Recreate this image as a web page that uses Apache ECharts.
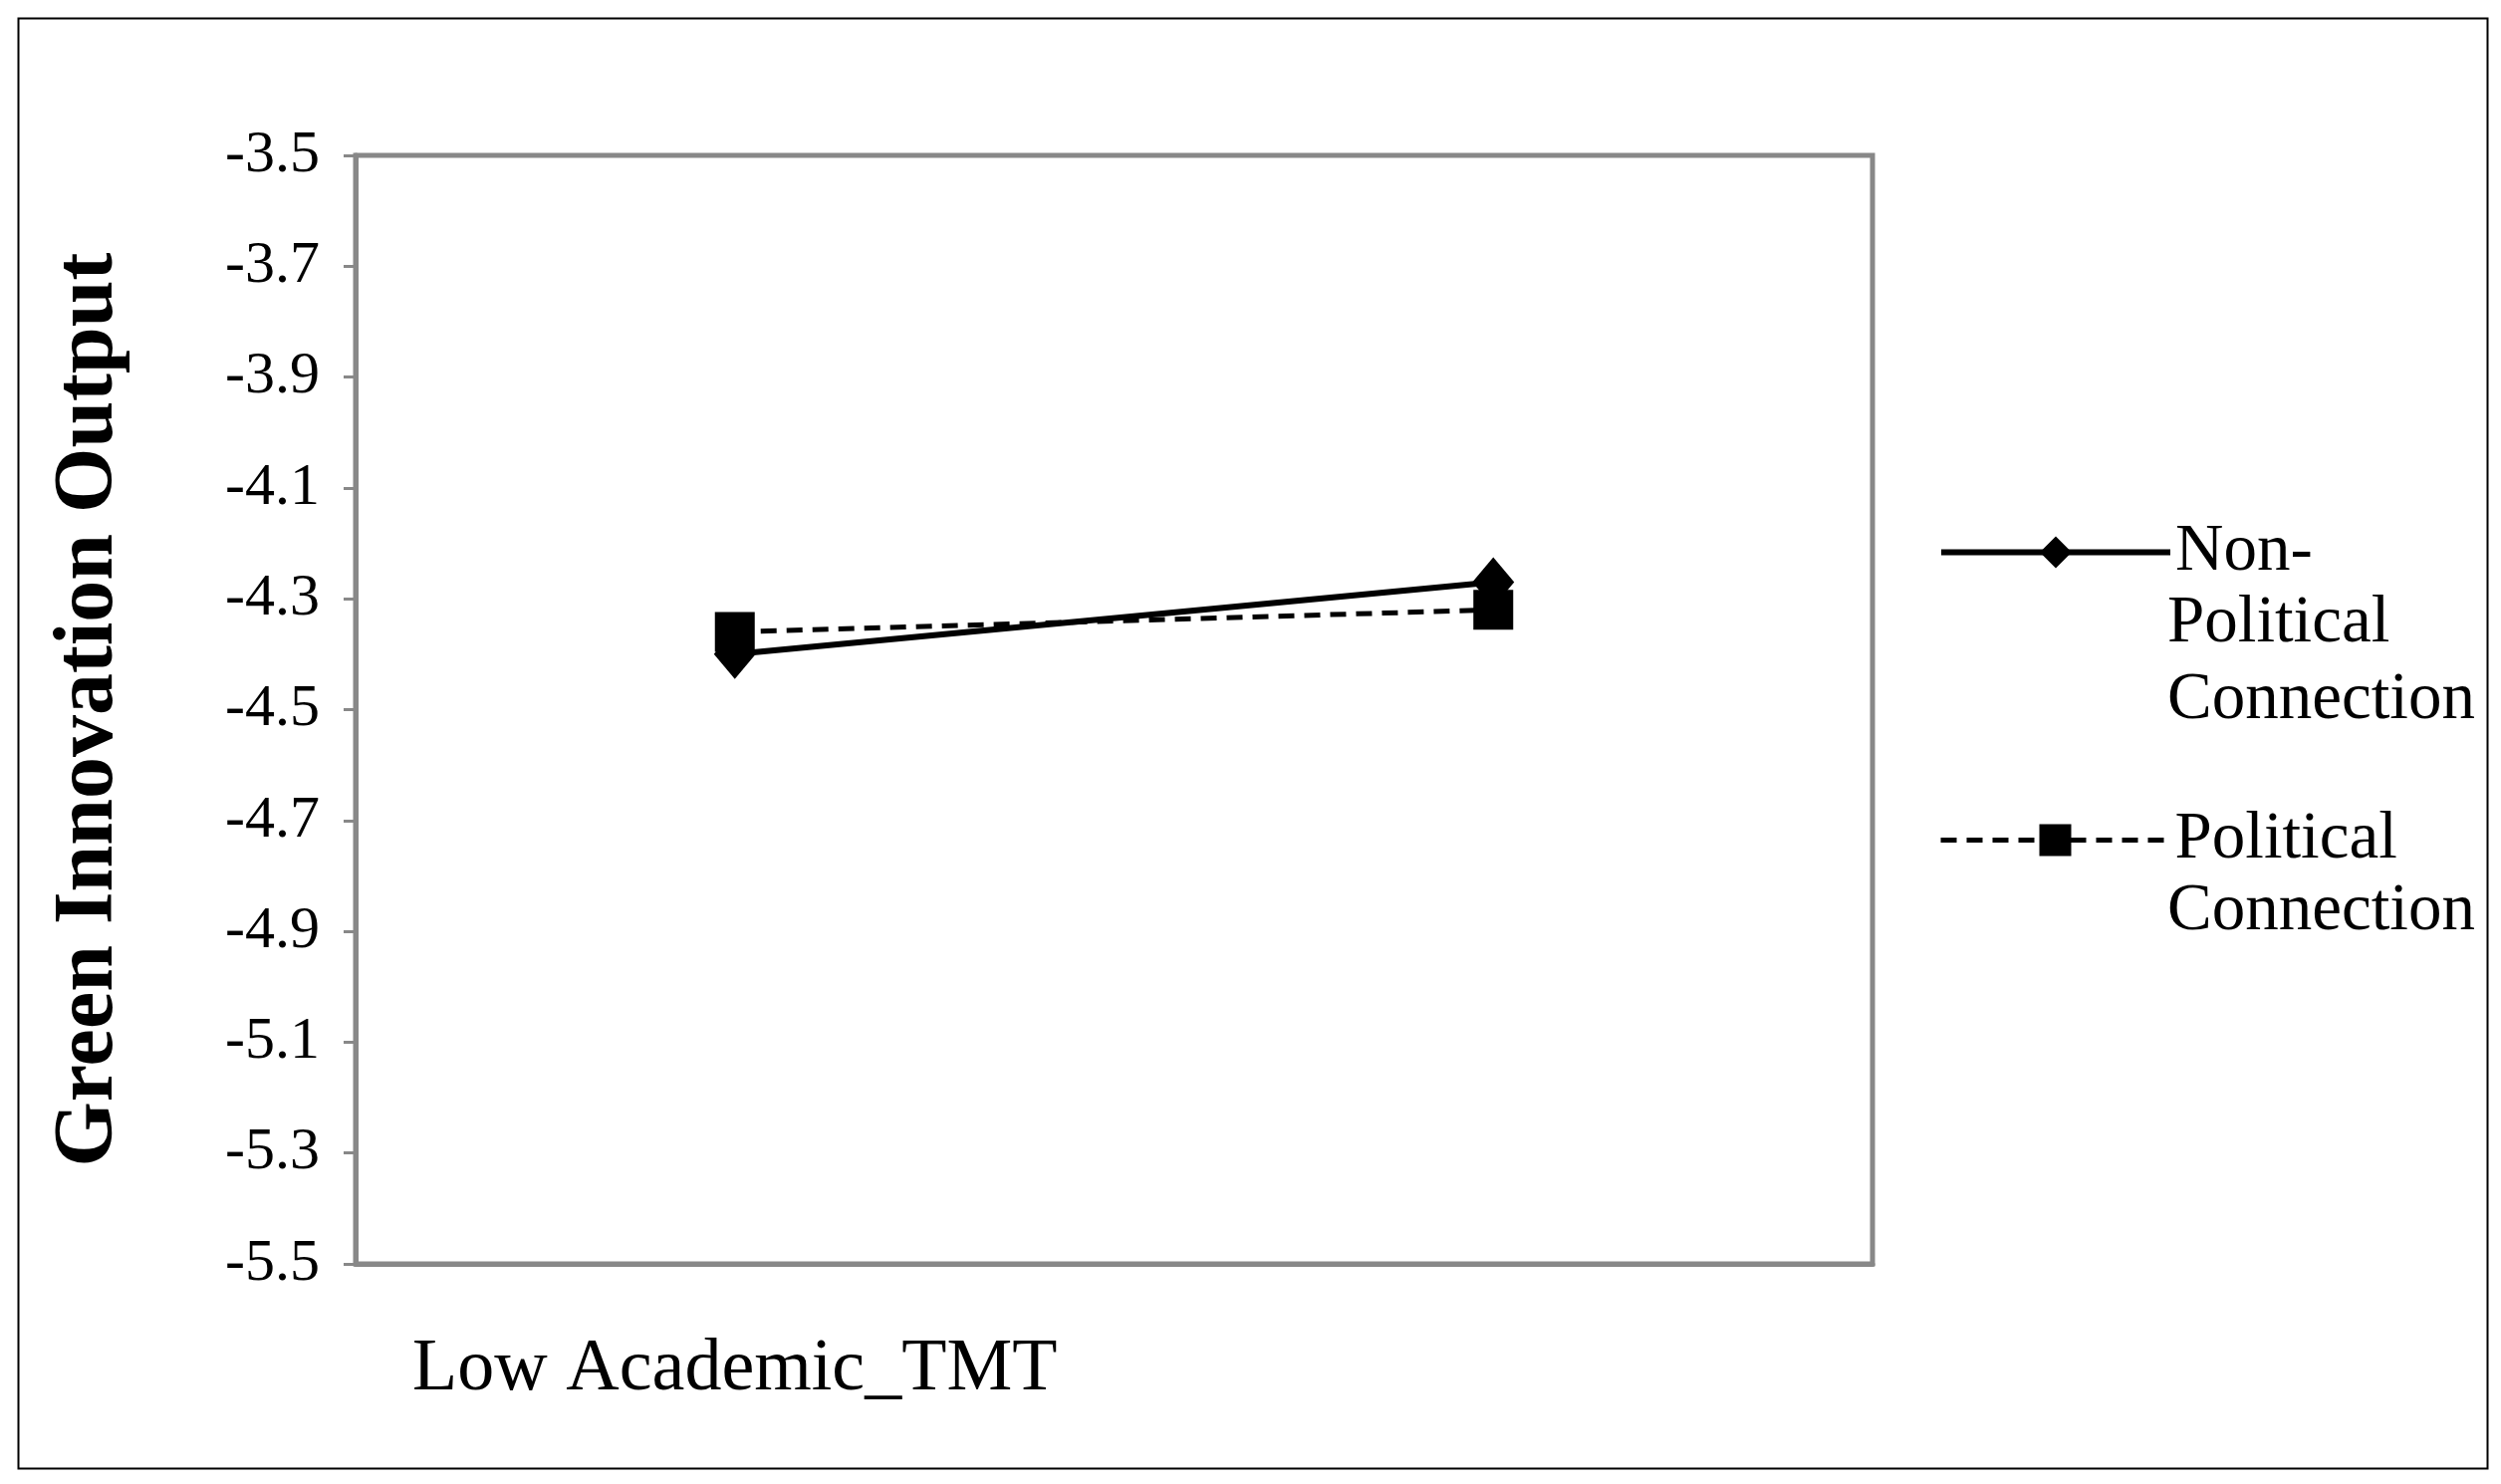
<!DOCTYPE html>
<html>
<head>
<meta charset="utf-8">
<script src="https://cdn.jsdelivr.net/npm/echarts@6/dist/echarts.min.js"></script>
<style>
  html, body { margin: 0; padding: 0; background: #fff; }
  #chart { width: 2511px; height: 1490px; }
</style>
</head>
<body>
<div id="chart"></div>
<script>
var categories = ['Low Academic_TMT', 'High Academic_TMT'];
var nonPolitical = [-4.40, -4.27];
var political = [-4.36, -4.32];
var yTicks = { min: -5.5, max: -3.5, interval: 0.2 };

var font = 'Liberation Serif';
var legendFont = { fontSize: 67, lineHeight: 77, fill: '#000', fontFamily: font };
var chart = echarts.init(document.getElementById('chart'));
chart.setOption({
  animation: false,
  textStyle: { fontFamily: font },
  graphic: [{
    type: 'rect', left: 16, top: 16,
    shape: { width: 2479, height: 1456 },
    style: { fill: 'none', stroke: '#000', lineWidth: 2 }
  }, {
    type: 'text', left: 2176, top: 588,
    style: Object.assign({ text: 'Political\nConnection' }, legendFont)
  }, {
    type: 'text', left: 2176, top: 877,
    style: Object.assign({ text: 'Connection' }, legendFont)
  }],
  grid: {
    left: 357, top: 156, width: 1523, height: 1113,
    show: true, borderColor: '#888', borderWidth: 5, backgroundColor: 'transparent'
  },
  xAxis: {
    type: 'category', data: categories, boundaryGap: true,
    axisLine: { lineStyle: { color: '#888', width: 5 } },
    axisTick: { show: false },
    axisLabel: { color: '#000', fontSize: 74, fontFamily: font, margin: 70 }
  },
  yAxis: {
    type: 'value', min: yTicks.min, max: yTicks.max, interval: yTicks.interval,
    name: 'Green Innovation Output', nameLocation: 'middle', nameGap: 225,
    nameTextStyle: { color: '#000', fontSize: 84, fontWeight: 'bold', fontFamily: font },
    axisLine: { show: true, lineStyle: { color: '#888', width: 5 } },
    axisTick: { show: true, length: 12, lineStyle: { color: '#888', width: 3 } },
    splitLine: { show: false },
    axisLabel: {
      color: '#000', fontSize: 60, fontFamily: font, margin: 36,
      formatter: function (v) { return (Math.round(v * 10) / 10).toFixed(1); },
      showMinLabel: true, showMaxLabel: true
    }
  },
  legend: [{
    left: 1941, top: 511, itemWidth: 230, itemHeight: 40, itemGap: 0,
    data: ['Non-Political Connection'],
    formatter: function () { return 'Non-'; },
    lineStyle: { width: 6 },
    textStyle: { fontSize: 67, lineHeight: 77, color: '#000', fontFamily: font }
  }, {
    left: 1941, top: 800, itemWidth: 230, itemHeight: 40, itemGap: 0,
    data: ['Political Connection'],
    formatter: function () { return 'Political'; },
    lineStyle: { width: 5 },
    textStyle: { fontSize: 67, lineHeight: 77, color: '#000', fontFamily: font }
  }],
  series: [{
    name: 'Non-Political Connection', type: 'line', data: nonPolitical,
    symbol: 'diamond', symbolSize: [42, 50],
    lineStyle: { color: '#000', width: 6 }, itemStyle: { color: '#000' }
  }, {
    name: 'Political Connection', type: 'line', data: political,
    symbol: 'rect', symbolSize: 40,
    lineStyle: { color: '#000', width: 5, type: [16, 10] }, itemStyle: { color: '#000' }
  }]
});
</script>
</body>
</html>
